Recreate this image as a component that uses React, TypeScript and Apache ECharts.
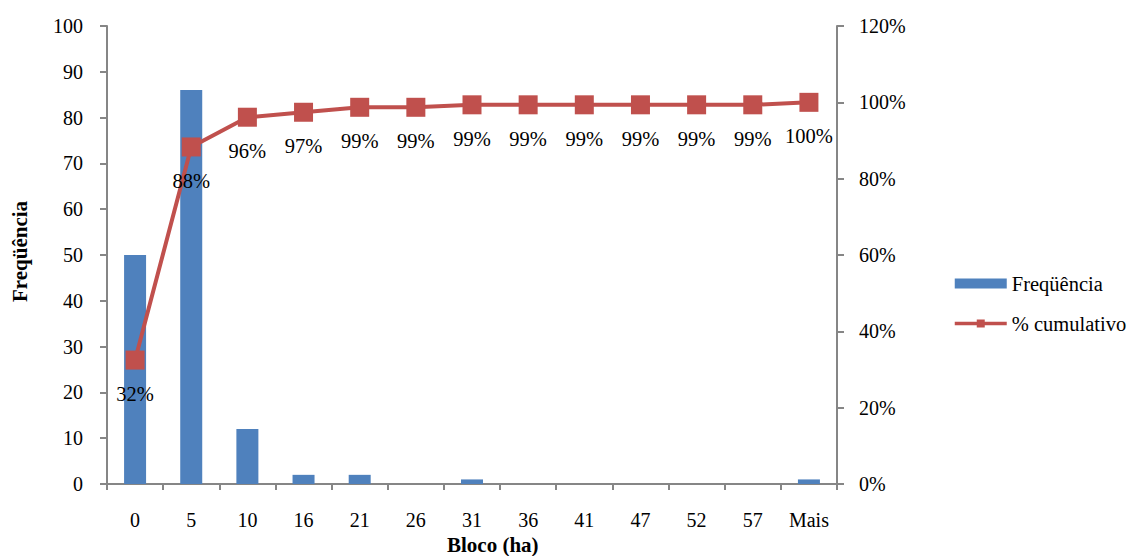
import React, { useEffect, useRef } from "react";
import * as echarts from "echarts";

const categories = ["0", "5", "10", "16", "21", "26", "31", "36", "41", "47", "52", "57", "Mais"];
const frequencia = [50, 86, 12, 2, 2, 0, 1, 0, 0, 0, 0, 0, 1];
const cumulativo = [32.47, 88.31, 96.1, 97.4, 98.7, 98.7, 99.35, 99.35, 99.35, 99.35, 99.35, 99.35, 100];
const leftTicks = { min: 0, max: 100, interval: 10 };
const rightTicks = { min: 0, max: 120, interval: 20 };

const FONT = "Liberation Serif, Times New Roman, serif";
const AXIS_COLOR = "#868686";

export default function App() {
  const ref = useRef<HTMLDivElement>(null);
  useEffect(() => {
    if (!ref.current) return;
    const chart = echarts.init(ref.current, undefined, { renderer: "svg" });
    chart.setOption({
      animation: false,
      textStyle: { fontFamily: FONT, color: "#000" },
      grid: { left: 107, right: 295, top: 26, bottom: 72, containLabel: false },
      legend: {
        orient: "vertical",
        left: 953,
        top: 273,
        padding: 0,
        itemWidth: 52,
        itemHeight: 10,
        itemGap: 19,
        textStyle: { fontFamily: FONT, fontSize: 20.5, color: "#000", lineHeight: 20 },
        data: [
          { name: "Freqüência", icon: "rect" },
          { name: "% cumulativo", lineStyle: { width: 3.5 } },
        ],
      },
      xAxis: {
        type: "category",
        data: categories,
        boundaryGap: true,
        axisLine: { lineStyle: { color: AXIS_COLOR, width: 2 } },
        axisTick: { show: true, length: 6, alignWithLabel: false, lineStyle: { color: AXIS_COLOR, width: 2 } },
        axisLabel: { fontFamily: FONT, fontSize: 20, color: "#000", margin: 26 },
        splitLine: { show: false },
      },
      yAxis: [
        {
          type: "value",
          min: leftTicks.min,
          max: leftTicks.max,
          interval: leftTicks.interval,
          position: "left",
          axisLine: { show: true, lineStyle: { color: AXIS_COLOR, width: 2 } },
          axisTick: { show: true, length: 7, lineStyle: { color: AXIS_COLOR, width: 2 } },
          axisLabel: { fontFamily: FONT, fontSize: 20, color: "#000", margin: 24 },
          splitLine: { show: false },
        },
        {
          type: "value",
          min: rightTicks.min,
          max: rightTicks.max,
          interval: rightTicks.interval,
          position: "right",
          axisLine: { show: true, lineStyle: { color: AXIS_COLOR, width: 2 } },
          axisTick: { show: true, length: 7, lineStyle: { color: AXIS_COLOR, width: 2 } },
          axisLabel: { fontFamily: FONT, fontSize: 20, color: "#000", margin: 22, formatter: "{value}%" },
          splitLine: { show: false },
        },
      ],
      graphic: [
        {
          type: "text",
          left: 447,
          top: 534,
          style: { text: "Bloco (ha)", fontFamily: FONT, fontWeight: "bold", fontSize: 21, fill: "#000" },
        },
        {
          type: "text",
          x: 9,
          y: 302,
          rotation: Math.PI / 2,
          style: { text: "Freqüência", fontFamily: FONT, fontWeight: "bold", fontSize: 21, fill: "#000" },
        },
      ],
      series: [
        {
          name: "Freqüência",
          type: "bar",
          data: frequencia,
          yAxisIndex: 0,
          barWidth: 22,
          itemStyle: { color: "#4F81BD" },
          z: 1,
        },
        {
          name: "% cumulativo",
          type: "line",
          data: cumulativo,
          yAxisIndex: 1,
          symbol: "rect",
          symbolSize: 19,
          lineStyle: { color: "#C0504D", width: 4 },
          itemStyle: { color: "#C0504D" },
          label: {
            show: true,
            position: "bottom",
            distance: 14,
            fontFamily: FONT,
            fontSize: 20.5,
            color: "#000",
            formatter: (p: any) => Math.round(p.value) + "%",
          },
          z: 3,
        },
      ],
    });
    return () => chart.dispose();
  }, []);
  return (
    <div
      ref={ref}
      style={{ position: "absolute", left: 0, top: 0, width: 1132, height: 556 }}
    />
  );
}
